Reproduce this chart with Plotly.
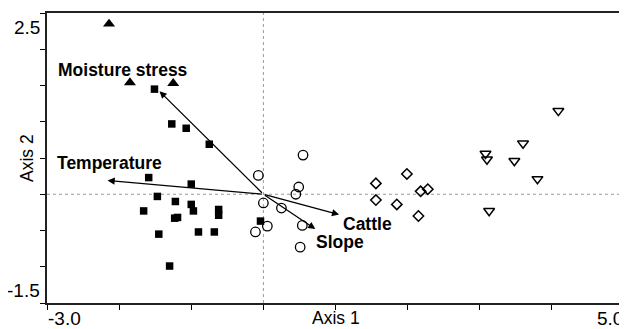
import plotly.graph_objects as go

# ---- data ----
tri_up_x = [-2.14, -1.85, -1.25]
tri_up_y = [2.35, 1.54, 1.53]

sq_x = [-1.51, -1.27, -1.07, -0.75, -1.59, -1.00, -1.47, -1.22, -1.00, -0.97,
        -1.66, -0.62, -0.62, -1.23, -1.19, -1.45, -0.90, -0.68, -1.30, -0.04]
sq_y = [1.45, 0.97, 0.91, 0.69, 0.23, 0.14, -0.03, -0.10, -0.14, -0.23,
        -0.23, -0.21, -0.29, -0.33, -0.32, -0.55, -0.52, -0.52, -0.99, -0.37]

circ_x = [0.55, -0.07, 0.49, 0.45, 0.00, 0.25, 0.055, -0.11, 0.54, 0.51]
circ_y = [0.54, 0.26, 0.10, 0.00, -0.12, -0.19, -0.44, -0.52, -0.43, -0.73]

dia_x = [1.56, 1.99, 1.56, 1.85, 2.18, 2.28, 2.15]
dia_y = [0.15, 0.28, -0.08, -0.14, 0.04, 0.07, -0.30]

tri_dn_x = [4.09, 3.60, 3.08, 3.10, 3.48, 3.80, 3.13]
tri_dn_y = [1.15, 0.70, 0.56, 0.48, 0.46, 0.21, -0.23]

vec_names = ["Moisture stress", "Temperature", "Cattle", "Slope"]
vec_x = [-1.44, -2.16, 1.05, 0.72]
vec_y = [1.42, 0.19, -0.28, -0.48]
lab_x = [-1.95, -2.13, 1.45, 1.06]
lab_y = [1.71, 0.43, -0.41, -0.66]

x_range = [-3.0, 5.0]
y_range = [-1.5, 2.5]
x_ticks = [-3, -2, -1, 0, 1, 2, 3, 4, 5]
y_ticks = [-1.5, -1.0, -0.5, 0.0, 0.5, 1.0, 1.5, 2.0, 2.5]

FONT = "Arial, Liberation Sans, sans-serif"

fig = go.Figure()

fig.add_trace(go.Scatter(x=sq_x, y=sq_y, mode="markers",
                         marker=dict(symbol="square", size=7.5, color="black"),
                         showlegend=False))
fig.add_trace(go.Scatter(x=tri_up_x, y=tri_up_y, mode="markers",
                         marker=dict(symbol="triangle-up", size=10.5, color="black"),
                         showlegend=False))
fig.add_trace(go.Scatter(x=circ_x, y=circ_y, mode="markers",
                         marker=dict(symbol="circle-open", size=9.5, color="black",
                                     line=dict(width=1.3)),
                         showlegend=False))
fig.add_trace(go.Scatter(x=dia_x, y=dia_y, mode="markers",
                         marker=dict(symbol="diamond-open", size=8, color="black",
                                     line=dict(width=1.5)),
                         showlegend=False))
fig.add_trace(go.Scatter(x=tri_dn_x, y=tri_dn_y, mode="markers",
                         marker=dict(symbol="triangle-down-open", size=9.5, color="black",
                                     line=dict(width=1.5)),
                         showlegend=False))

# zero reference lines
fig.add_shape(type="line", xref="x", yref="paper", x0=0, x1=0, y0=0, y1=1,
              line=dict(color="#999999", width=1, dash="dot"), layer="below")
fig.add_shape(type="line", xref="paper", yref="y", x0=0, x1=1, y0=0, y1=0,
              line=dict(color="#999999", width=1, dash="dot"), layer="below")

annotations = []
for name, vx, vy, lx, ly in zip(vec_names, vec_x, vec_y, lab_x, lab_y):
    annotations.append(dict(x=vx, y=vy, ax=0, ay=0, xref="x", yref="y",
                            axref="x", ayref="y", text="", showarrow=True,
                            arrowhead=2, arrowsize=1.1, arrowwidth=1.3,
                            arrowcolor="black"))
    annotations.append(dict(x=lx, y=ly, xref="x", yref="y", text="<b>%s</b>" % name,
                            showarrow=False, font=dict(family=FONT, size=17.5, color="black")))

num_font = dict(family=FONT, size=19, color="black")
title_font = dict(family=FONT, size=17.5, color="black")
annotations += [
    dict(x=x_range[0], y=0, xref="x", yref="paper", text="-3.0", showarrow=False,
         xanchor="left", yanchor="middle", yshift=-15, xshift=-1, font=num_font),
    dict(x=x_range[1], y=0, xref="x", yref="paper", text="5.0", showarrow=False,
         xanchor="right", yanchor="middle", yshift=-15, xshift=1, font=num_font),
    dict(x=1, y=0, xref="x", yref="paper", text="Axis 1", showarrow=False,
         xanchor="center", yanchor="middle", yshift=-15, font=title_font),
    dict(x=0, y=y_range[1], xref="paper", yref="y", text="2.5", showarrow=False,
         xanchor="right", yanchor="middle", xshift=-5, yshift=-14, font=num_font),
    dict(x=0, y=y_range[0], xref="paper", yref="y", text="-1.5", showarrow=False,
         xanchor="right", yanchor="middle", xshift=-5, yshift=13, font=num_font),
    dict(x=0, y=0.5, xref="paper", yref="paper", text="Axis 2", showarrow=False,
         textangle=-90, xanchor="center", yanchor="middle", xshift=-20, font=title_font),
]

# the page body has an 8px margin, so the figure is sized/offset to compensate
fig.update_layout(
    width=619, height=321,
    margin=dict(l=39, r=1, t=5, b=26),
    paper_bgcolor="white", plot_bgcolor="white",
    annotations=annotations,
    font=dict(family=FONT, color="black"),
)
fig.update_xaxes(range=x_range, tickvals=x_ticks, showticklabels=False,
                 ticks="outside", ticklen=5, tickcolor="black", tickwidth=1.2,
                 showgrid=False, zeroline=False, showline=True, linecolor="#222222",
                 linewidth=1.5, mirror=True)
fig.update_yaxes(range=y_range, tickvals=y_ticks, showticklabels=False,
                 ticks="outside", ticklen=5, tickcolor="black", tickwidth=1.2,
                 showgrid=False, zeroline=False, showline=True, linecolor="#222222",
                 linewidth=1.5, mirror=True)

fig.write_html("out.html")
